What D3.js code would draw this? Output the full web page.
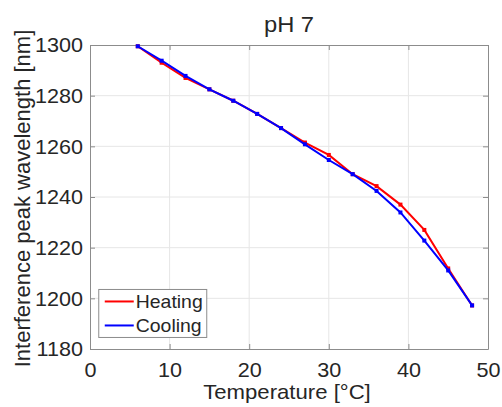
<!DOCTYPE html>
<html>
<head>
<meta charset="utf-8">
<script src="https://cdn.jsdelivr.net/npm/d3@7"></script>
<style>
  body { margin: 0; background: #fff; }
  text { font-family: "Liberation Sans", Arial, sans-serif; fill: #262626; }
</style>
</head>
<body>
<div id="chart"></div>
<script>
const temps = [6, 9, 12, 15, 18, 21, 24, 27, 30, 33, 36, 39, 42, 45, 48];
const heating = [1299.5, 1293.0, 1287.0, 1282.5, 1278.0, 1272.8, 1267.2, 1261.5, 1256.6, 1249.0, 1244.3, 1237.0, 1227.0, 1211.8, 1197.2];
const cooling = [1299.5, 1293.8, 1287.8, 1282.5, 1278.0, 1272.8, 1267.2, 1260.8, 1254.6, 1249.0, 1242.4, 1233.9, 1222.8, 1211.0, 1197.2];
const xTicks = [0, 10, 20, 30, 40, 50];
const yTicks = [1180, 1200, 1220, 1240, 1260, 1280, 1300];

const svgWidth = 502, svgHeight = 407;
const margin = { top: 45, right: 14, bottom: 58, left: 90 };
const width = svgWidth - margin.left - margin.right;
const height = svgHeight - margin.top - margin.bottom;
const SX = 1.08; // text in the picture is slightly wide

// move x/y into a transform and widen the glyphs a bit
function widen(sel) {
  sel.each(function() {
    const t = d3.select(this);
    const tx = +t.attr("x") || 0, ty = +t.attr("y") || 0;
    t.attr("x", 0).attr("y", 0)
      .attr("transform", `translate(${tx}, ${ty}) scale(${SX}, 1)`);
  });
}

const svg = d3.select("#chart").append("svg")
  .attr("width", svgWidth)
  .attr("height", svgHeight);

const chartGroup = svg.append("g")
  .attr("transform", `translate(${margin.left}, ${margin.top})`);

const x = d3.scaleLinear().domain([0, 50]).range([0, width]);
const y = d3.scaleLinear().domain([1180, 1300]).range([height, 0]);

// grid
chartGroup.append("g")
  .selectAll("line")
  .data(xTicks.slice(1, -1))
  .enter().append("line")
  .attr("x1", d => x(d)).attr("x2", d => x(d))
  .attr("y1", 0).attr("y2", height)
  .attr("stroke", "#e6e6e6");
chartGroup.append("g")
  .selectAll("line")
  .data(yTicks.slice(1, -1))
  .enter().append("line")
  .attr("y1", d => y(d)).attr("y2", d => y(d))
  .attr("x1", 0).attr("x2", width)
  .attr("stroke", "#e6e6e6");

// axes
const fmt = d3.format("d");
const bottomAxis = d3.axisBottom(x).tickValues(xTicks).tickFormat(fmt).tickSizeInner(-5).tickSizeOuter(0);
const leftAxis = d3.axisLeft(y).tickValues(yTicks).tickFormat(fmt).tickSizeInner(-5).tickSizeOuter(0);

const xAxis = chartGroup.append("g")
  .attr("transform", `translate(0, ${height})`)
  .call(bottomAxis);
const yAxis = chartGroup.append("g").call(leftAxis);
const topAxis = chartGroup.append("g")
  .call(d3.axisTop(x).tickValues(xTicks).tickSizeInner(-5).tickSizeOuter(0).tickFormat(""));
const rightAxis = chartGroup.append("g")
  .attr("transform", `translate(${width}, 0)`)
  .call(d3.axisRight(y).tickValues(yTicks).tickSizeInner(-5).tickSizeOuter(0).tickFormat(""));

[xAxis, yAxis, topAxis, rightAxis].forEach(a => {
  a.select(".domain").attr("stroke", "#8c8c8c");
  a.selectAll(".tick line").attr("stroke", "#8c8c8c");
  a.selectAll(".tick text").style("font-size", "20px").attr("fill", "#262626");
});
xAxis.selectAll(".tick text").attr("y", 28).attr("dy", null);
yAxis.selectAll(".tick text").attr("x", -7).attr("dy", "0.34em");
widen(xAxis.selectAll(".tick text"));
widen(yAxis.selectAll(".tick text"));

// series
const series = [
  { name: "Heating", values: heating, color: "#ff0000" },
  { name: "Cooling", values: cooling, color: "#0000ff" }
];

const line = d3.line()
  .x((d, i) => x(temps[i]))
  .y(d => y(d));

series.forEach(s => {
  chartGroup.append("path")
    .datum(s.values)
    .attr("fill", "none")
    .attr("stroke", s.color)
    .attr("stroke-width", 2)
    .attr("d", line);
  chartGroup.selectAll(null)
    .data(s.values)
    .enter().append("rect")
    .attr("x", (d, i) => x(temps[i]) - 2)
    .attr("y", d => y(d) - 2)
    .attr("width", 4).attr("height", 4)
    .attr("fill", s.color);
});

// legend
const legend = chartGroup.append("g")
  .attr("transform", `translate(${x(1.1)}, ${y(1203.5)})`);
legend.append("rect")
  .attr("width", 108).attr("height", 48)
  .attr("fill", "#fff")
  .attr("stroke", "#8c8c8c");
series.forEach((s, i) => {
  const ly = 12 + i * 24;
  legend.append("line")
    .attr("x1", 6).attr("x2", 35)
    .attr("y1", ly).attr("y2", ly)
    .attr("stroke", s.color).attr("stroke-width", 2);
  legend.append("text")
    .attr("x", 37).attr("y", ly + 6.5)
    .style("font-size", "18px")
    .text(s.name);
});
widen(legend.selectAll("text"));

// title and labels
const title = svg.append("text")
  .attr("x", margin.left + width / 2)
  .attr("y", 32)
  .attr("text-anchor", "middle")
  .style("font-size", "22px")
  .text("pH 7");

const xLabel = svg.append("text")
  .attr("x", margin.left + width / 2 - 2)
  .attr("y", 399)
  .attr("text-anchor", "middle")
  .style("font-size", "20.5px")
  .text("Temperature [°C]");
widen(title);
widen(xLabel);

svg.append("text")
  .attr("transform", "rotate(-90)")
  .attr("x", -198.5)
  .attr("y", 29.5)
  .attr("text-anchor", "middle")
  .style("font-size", "22px")
  .text("Interference peak wavelength [nm]");
</script>
</body>
</html>
